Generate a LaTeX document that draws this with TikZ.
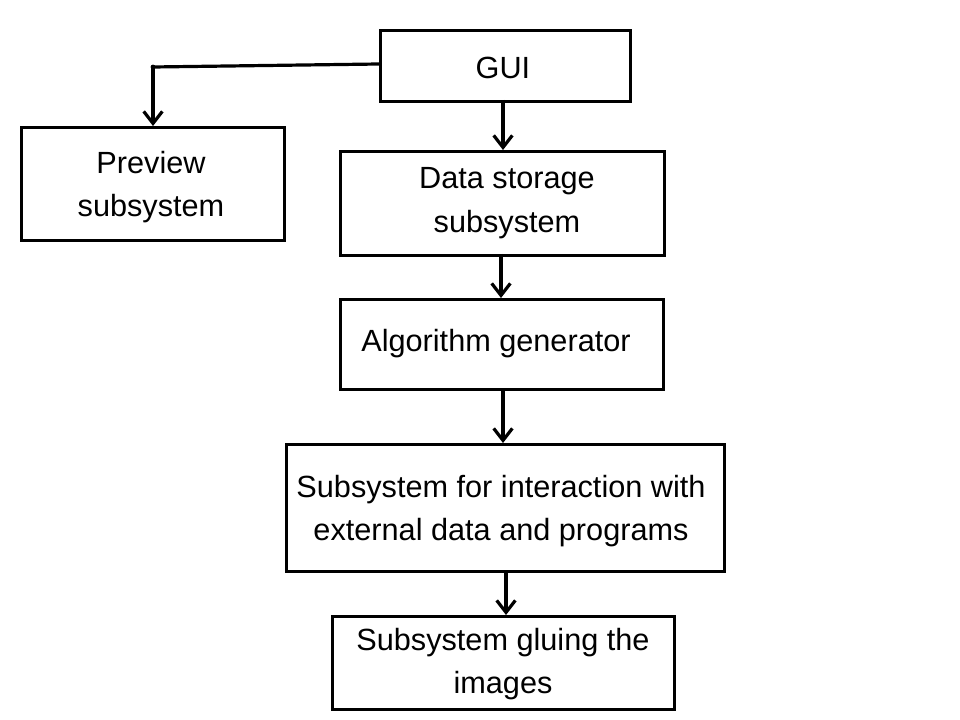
\documentclass[tikz,border=0pt]{standalone}
\usepackage{fontspec}
\setmainfont{Liberation Sans}
\usetikzlibrary{arrows.meta}
\begin{document}
\begin{tikzpicture}[x=0.75pt,y=-0.75pt,
  box/.style={draw=black,line width=2.2pt,inner sep=0pt,anchor=north west},
  lbl/.style={align=center,inner sep=0pt,font=\fontsize{23pt}{32.5pt}\selectfont},
  conn/.style={draw=black,line width=2.4pt,-{Straight Barb[length=9pt,width=14pt,line width=2.4pt]}}]
\useasboundingbox (0,0) rectangle (960,720);
\node[box,minimum width=250*0.75pt,minimum height=71*0.75pt] (gui) at (379,29) {};
\node[box,minimum width=263*0.75pt,minimum height=113*0.75pt] (prev) at (20,126) {};
\node[box,minimum width=324*0.75pt,minimum height=104*0.75pt] (data) at (339,150) {};
\node[box,minimum width=323*0.75pt,minimum height=90*0.75pt] (alg) at (339,298) {};
\node[box,minimum width=438*0.75pt,minimum height=127*0.75pt] (inter) at (285,443) {};
\node[box,minimum width=342*0.75pt,minimum height=93*0.75pt] (glue) at (331,615) {};
\node[lbl] (tgui) at (503,68) {GUI};
\node[lbl] (tprev) at (151,187) {Preview\\subsystem};
\node[lbl] (tdata) at (507,203) {Data storage\\subsystem};
\node[lbl] (talg) at (496,344) {Algorithm generator};
\node[lbl] (tinter) at (501,511) {Subsystem for interaction with\\external data and programs};
\node[lbl] (tglue) at (503,664) {Subsystem gluing the\\images};
\coordinate (c1) at (153,67);
\draw[line width=2.4pt] (gui.west |- 0,64) -- (c1);
\fill (c1) circle (1.8pt);
\draw[conn] (c1) -- (c1 |- prev.north);
\draw[conn] (503,100) -- (503,150);
\draw[conn] (501,254) -- (501,298);
\draw[conn] (503,388) -- (503,443);
\draw[conn] (506,570) -- (506,615);
\end{tikzpicture}
\end{document}
